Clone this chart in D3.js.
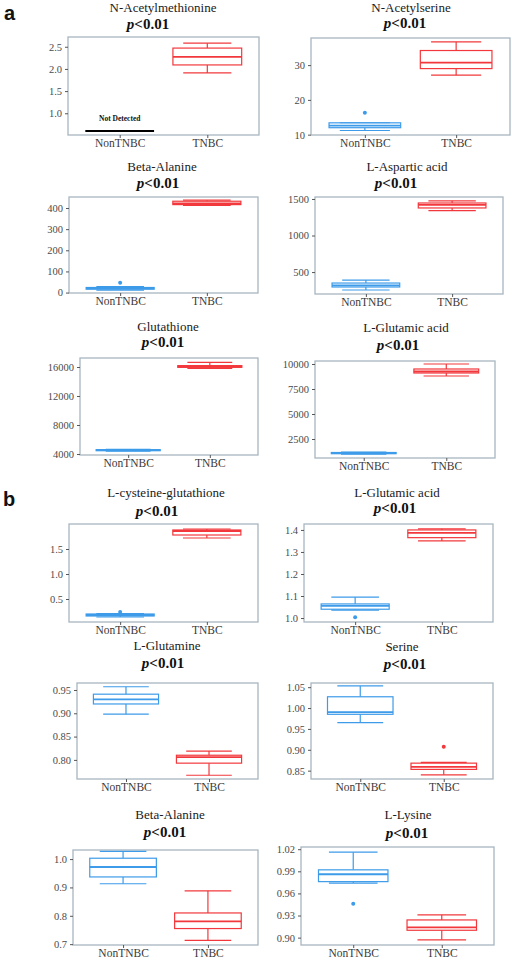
<!DOCTYPE html>
<html><head><meta charset="utf-8">
<script src="https://cdn.jsdelivr.net/npm/d3@7"></script>
<style>
body{margin:0;background:#fff;}
svg{display:block;}
svg text{font-family:"Liberation Serif","DejaVu Serif","Times New Roman",serif;}
svg text.letter{font-family:"Liberation Sans","DejaVu Sans",Arial,sans-serif;}
</style></head>
<body>
<script>
// ---------------- DATA ----------------
const categories = ["NonTNBC", "TNBC"];
const titles = ["N-Acetylmethionine","N-Acetylserine","Beta-Alanine","L-Aspartic acid","Glutathione","L-Glutamic acid",
  "L-cysteine-glutathione","L-Glutamic acid","L-Glutamine","Serine","Beta-Alanine","L-Lysine"];
const pLabels = ["<0.01","<0.01","<0.01","<0.01","<0.01","<0.01","<0.01","<0.01","<0.01","<0.01","<0.01","<0.01"];
const panelLetters = ["a","b"];
const yDomains = [[0.51,2.72],[9.9,37.8],[-2,452],[200,1527],[3860,17240],[600,10300],
  [0.04,2.0],[0.982,1.427],[0.759,0.965],[0.83,1.06],[0.697,1.032],[0.89,1.023]];
const yTickLabels = [["1.0","1.5","2.0","2.5"],["10","20","30"],["0","100","200","300","400"],["500","1000","1500"],
  ["4000","8000","12000","16000"],["2500","5000","7500","10000"],["0.5","1.0","1.5"],["1.0","1.1","1.2","1.3","1.4"],
  ["0.80","0.85","0.90","0.95"],["0.85","0.90","0.95","1.00","1.05"],["0.7","0.8","0.9","1.0"],["0.90","0.93","0.96","0.99","1.02"]];
// box stats: [lower whisker, q1, median, q3, upper whisker]
const nonTNBCStats = [null,[11.2,12.0,12.6,13.4,13.4],[12,16,20,24,28],[255,296,318,350,391],[4400,4450,4520,4600,4650],
  [980,1030,1100,1150,1200],[0.14,0.16,0.18,0.2,0.21],[1.036,1.040,1.055,1.064,1.095],[0.898,0.92,0.93,0.941,0.957],
  [0.965,0.985,0.99,1.027,1.053],[0.913,0.937,0.972,1.003,1.027],[0.974,0.976,0.986,0.992,1.016]];
const tnbcStats = [[1.91,2.09,2.27,2.47,2.58],[27.1,29.0,30.7,34.2,36.7],[412,416,422,432,437],[1340,1377,1420,1445,1475],
  [15800,15950,16100,16180,16650],[8800,9100,9250,9500,10000],[1.72,1.78,1.86,1.88,1.9],[1.35,1.365,1.387,1.40,1.405],
  [0.767,0.793,0.806,0.81,0.819],[0.84,0.853,0.859,0.868,0.870],[0.713,0.755,0.78,0.81,0.888],[0.897,0.910,0.914,0.924,0.931]];
const nonTNBCOutliers = [[],[16.3],[46],[],[],[],[0.24],[1.004],[],[],[],[0.946]];
const tnbcOutliers = [[],[],[],[],[],[],[],[],[],[0.907],[],[]];
const notDetected = [0.6,null,null,null,null,null,null,null,null,null,null,null];
const notDetectedText = "Not Detected";

// ---------------- LAYOUT ----------------
const layout = [
  {x0:68,x1:259,y0:37,y1:135,tx:163,ty:8,px:148,py:23},
  {x0:311,x1:510,y0:38,y1:135,tx:411,ty:8,px:405,py:22},
  {x0:69,x1:258,y0:197,y1:293,tx:162,ty:167,px:158,py:182},
  {x0:315,x1:503,y0:197,y1:294,tx:407,ty:167,px:396,py:182},
  {x0:80,x1:258,y0:358,y1:455,tx:168,ty:327,px:163,py:341},
  {x0:315,x1:495,y0:361,y1:458,tx:406,ty:328,px:398,py:344},
  {x0:69,x1:258,y0:524,y1:622,tx:166,ty:493,px:157,py:510},
  {x0:304,x1:493,y0:524,y1:622,tx:397,ty:493,px:395,py:507},
  {x0:77,x1:258,y0:683,y1:779,tx:167,ty:646,px:163,py:662},
  {x0:311,x1:493,y0:683,y1:779,tx:402,ty:647,px:405,py:663},
  {x0:73,x1:258,y0:850,y1:945,tx:170,ty:815,px:165,py:831},
  {x0:301,x1:494,y0:847,y1:945,tx:408,ty:815,px:407,py:832}
];
const letterPos = [{x:4,y:20},{x:3,y:506}];
const colors = {NonTNBC:"#3d9be9", TNBC:"#f2383c"};
const frameColor = "#a8b6bf";

// ---------------- DRAW ----------------
const svg = d3.select("body").append("svg").attr("width",512).attr("height",960);

panelLetters.forEach((l,i)=>{
  svg.append("text").attr("class","letter").attr("x",letterPos[i].x).attr("y",letterPos[i].y)
    .attr("font-weight","bold").attr("font-size",20).attr("fill","#111").text(l);
});

titles.forEach((title,i)=>{
  const L = layout[i];
  const g = svg.append("g");
  const x = d3.scalePoint().domain(categories).range([L.x0,L.x1]).padding(0.59);
  const y = d3.scaleLinear().domain(yDomains[i]).range([L.y1,L.y0]);
  const bw = (L.x1-L.x0)*0.36;
  const cw = bw*0.35;

  g.append("text").attr("x",L.tx).attr("y",L.ty+4).attr("text-anchor","middle")
    .attr("font-size",13).attr("fill","#1a1a1a").text(title);
  const pt = g.append("text").attr("x",L.px).attr("y",L.py+6).attr("text-anchor","middle")
    .attr("font-size",15).attr("font-weight","bold").attr("fill","#111");
  pt.append("tspan").attr("font-style","italic").text("p");
  pt.append("tspan").text(pLabels[i]);

  // frame
  g.append("rect").attr("x",L.x0).attr("y",L.y0).attr("width",L.x1-L.x0).attr("height",L.y1-L.y0)
    .attr("fill","none").attr("stroke",frameColor).attr("stroke-width",1.3);

  // y axis
  const ticks = yTickLabels[i].map(s=>+s);
  const yAxis = d3.axisLeft(y).tickValues(ticks).tickSize(3).tickPadding(3)
    .tickFormat((d,k)=>yTickLabels[i][k]);
  const ya = g.append("g").attr("transform",`translate(${L.x0},0)`).call(yAxis);
  ya.attr("font-family",null);
  ya.select(".domain").remove();
  ya.selectAll("line").attr("stroke","#555");
  ya.selectAll("text").attr("font-size",10.5).attr("fill","#4a4a4a");

  // x axis
  const xAxis = d3.axisBottom(x).tickSize(3).tickPadding(1);
  const xa = g.append("g").attr("transform",`translate(0,${L.y1})`).call(xAxis);
  xa.attr("font-family",null);
  xa.select(".domain").remove();
  xa.selectAll("line").attr("stroke","#555");
  xa.selectAll("text").attr("font-size",11.5).attr("fill","#3a3a3a");

  const groups = [
    {cat:"NonTNBC", s:nonTNBCStats[i], out:nonTNBCOutliers[i]},
    {cat:"TNBC", s:tnbcStats[i], out:tnbcOutliers[i]}
  ];
  groups.forEach(gr=>{
    const cx = x(gr.cat), col = colors[gr.cat];
    if(gr.s){
      const [lo,q1,md,q3,hi] = gr.s;
      const bg = g.append("g").attr("stroke",col).attr("fill","none").attr("stroke-width",1.2);
      bg.append("line").attr("x1",cx).attr("x2",cx).attr("y1",y(hi)).attr("y2",y(q3));
      bg.append("line").attr("x1",cx).attr("x2",cx).attr("y1",y(q1)).attr("y2",y(lo));
      bg.append("line").attr("x1",cx-cw).attr("x2",cx+cw).attr("y1",y(hi)).attr("y2",y(hi));
      bg.append("line").attr("x1",cx-cw).attr("x2",cx+cw).attr("y1",y(lo)).attr("y2",y(lo));
      bg.append("rect").attr("x",cx-bw/2).attr("width",bw).attr("y",y(q3))
        .attr("height",Math.max(1,y(q1)-y(q3))).attr("fill","#fff").attr("fill-opacity",0.6);
      bg.append("line").attr("x1",cx-bw/2).attr("x2",cx+bw/2).attr("y1",y(md)).attr("y2",y(md))
        .attr("stroke-width",1.8);
    }
    gr.out.forEach(v=>{
      g.append("circle").attr("cx",cx).attr("cy",y(v)).attr("r",2).attr("fill",col);
    });
  });

  if(notDetected[i]!==null){
    const cx = x("NonTNBC");
    g.append("line").attr("x1",cx-bw/2).attr("x2",cx+bw/2).attr("y1",y(notDetected[i])).attr("y2",y(notDetected[i]))
      .attr("stroke","#000").attr("stroke-width",2);
    g.append("text").attr("x",cx).attr("y",y(notDetected[i])-10).attr("text-anchor","middle")
      .attr("font-weight","bold").attr("font-size",7.5).attr("fill","#111").text(notDetectedText);
  }
});
</script>
</body></html>
